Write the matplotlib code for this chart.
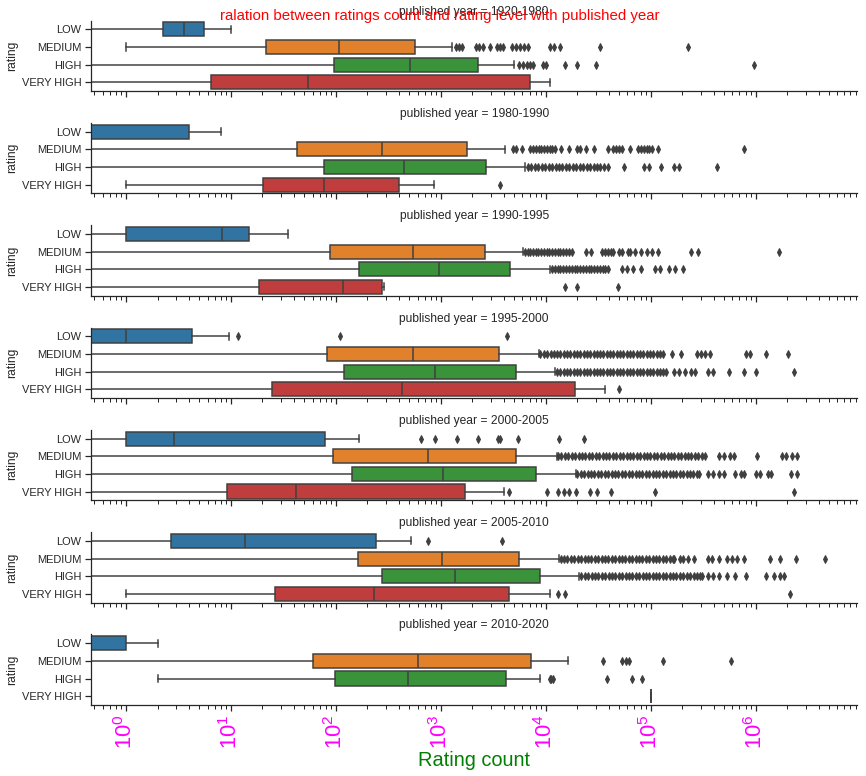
import matplotlib
matplotlib.use('Agg')
import matplotlib.pyplot as plt

# ---------------- data ----------------
year_groups = ['1920-1980', '1980-1990', '1990-1995', '1995-2000',
               '2000-2005', '2005-2010', '2010-2020']
ratings = ['LOW', 'MEDIUM', 'HIGH', 'VERY HIGH']

# rows = year groups, columns = ratings (LOW, MEDIUM, HIGH, VERY HIGH)
whisker_low = [[0, 1, 0, 0],
               [0, 0, 0, 1],
               [0, 0, 0, 0],
               [0, 0, 0, 0],
               [0, 0, 0, 0],
               [0, 0, 0, 1],
               [0, 0, 2, 100000]]
quartile1 = [[2.25, 21.5, 97, 6.5],
             [0, 43, 77.5, 20.4],
             [1, 87.5, 165, 18.5],
             [0, 83, 118.5, 24.4],
             [1, 93, 142, 9.2],
             [2.7, 161, 274, 26.6],
             [0, 60.8, 97.6, 100000]]
median = [[3.6, 107, 510, 54],
          [0, 277, 446, 77.5],
          [8.2, 548, 958, 117],
          [1, 548, 880, 430],
          [2.9, 761, 1043, 41.7],
          [13.6, 1018, 1380, 231],
          [0, 604, 491, 100000]]
quartile3 = [[5.5, 569, 2280, 7100],
             [4, 1760, 2690, 400],
             [15, 2630, 4540, 278],
             [4.3, 3560, 5190, 18800],
             [79.5, 5190, 8040, 1718],
             [243, 5580, 8860, 4490],
             [1, 7290, 4170, 100000]]
whisker_high = [[10, 1270, 5000, 11000],
                [8, 4120, 6300, 870],
                [35, 6100, 10900, 285],
                [9.5, 8540, 12300, 36700],
                [165, 12800, 19500, 3970],
                [522, 13500, 20700, 10900],
                [2, 16300, 8750, 100000]]

fliers_1920_1980 = [
    [],
    [1400, 1500, 1600, 2170, 2300, 2530, 2950, 3440, 3700, 3930, 4780, 5220,
     5700, 6220, 6790, 11000, 12000, 13700, 33000, 228000],
    [5500, 6120, 6610, 7000, 7640, 9380, 10100, 15300, 20000, 30200, 970000],
    [],
]
fliers_1980_1990 = [
    [],
    [4820, 5250, 5930, 7110, 7570, 8040, 8530, 9080, 9640, 10250, 10890, 11560,
     12300, 13870, 16670, 20000, 21230, 23990, 28770, 39000, 44060, 46770,
     49770, 52840, 63390, 76030, 80910, 85900, 91200, 97000, 103000, 116400,
     765600],
    [6700, 7300, 7900, 8500, 9200, 9900, 10700, 11500, 12400, 13400, 14400,
     15600, 16800, 18100, 19500, 21000, 22700, 24500, 26400, 28500, 30700,
     33100, 35700, 39000, 56100, 85900, 97000, 124000, 168000, 185000, 432000],
    [3650],
]
fliers_1990_1995 = [
    [],
    [6300, 6700, 7100, 7500, 8000, 8500, 9000, 9600, 10200, 10800, 11500,
     12200, 13000, 13800, 14700, 15600, 16600, 17800, 24000, 26900, 34700,
     37000, 38900, 41500, 43600, 50100, 53000, 60300, 63000, 70800, 81300,
     91200, 102000, 117000, 240000, 282000, 1660000],
    [11500, 12200, 13000, 13800, 14700, 15600, 16600, 17600, 18800, 20000,
     21300, 22600, 24000, 25600, 27200, 28900, 30800, 32700, 34800, 37000,
     39000, 52800, 59700, 67300, 80900, 109600, 123700, 148500, 171700, 201000],
    [15300, 20000, 48500],
]
fliers_1995_2000 = [
    [11.6, 110, 4280],
    [8900, 9600, 10300, 11100, 11900, 12800, 13800, 14800, 15900, 17100,
     18400, 19800, 21300, 22900, 24600, 26500, 28500, 30600, 32900, 35400,
     38100, 41000, 44000, 47400, 51000, 54800, 59000, 63400, 68200, 73400,
     78900, 84900, 91300, 98200, 106000, 114000, 122000, 131000, 158000,
     194000, 279000, 300000, 327000, 369000, 813000, 885000, 1245000, 2020000],
    [12800, 13800, 14800, 15900, 17100, 18400, 19800, 21300, 22900, 24600,
     26500, 28500, 30600, 32900, 35400, 38100, 41000, 44000, 47400, 51000,
     54800, 59000, 63400, 68200, 73400, 78900, 84900, 91300, 98200, 106000,
     114000, 122000, 131000, 140000, 167000, 185000, 210000, 240000, 266000,
     348000, 393000, 551000, 766000, 1000000, 2340000],
    [49700],
]
fliers_2000_2005 = [
    [650, 880, 1430, 2270, 3520, 3650, 5380, 13400, 23100],
    [13100, 14100, 15200, 16400, 17700, 19100, 20600, 22200, 23900, 25800,
     27800, 30000, 32300, 34800, 37500, 40400, 43600, 47000, 50600, 54600,
     58800, 63400, 68300, 73600, 79400, 85500, 92200, 99400, 107000, 115000,
     124000, 134000, 145000, 156000, 168000, 181000, 195000, 210000, 227000,
     244000, 263000, 284000, 306000, 327000, 443000, 500000, 565000, 622000,
     1040000, 1790000, 1950000, 2200000, 2490000],
    [20000, 21600, 23300, 25100, 27000, 29100, 31400, 33800, 36500, 39300,
     42400, 45700, 49200, 53000, 57200, 61600, 66400, 71600, 77100, 83100,
     89600, 96600, 104000, 112000, 121000, 130000, 140000, 151000, 163000,
     176000, 189000, 204000, 220000, 237000, 255000, 275000, 290000, 348000,
     394000, 443000, 500000, 638000, 721000, 766000, 1010000, 1100000,
     1320000, 1410000, 2150000, 2490000],
    [4490, 10200, 13100, 14800, 16700, 19500, 26400, 30600, 41400, 110000,
     2340000],
]
fliers_2005_2010 = [
    [760, 3790],
    [13900, 15000, 16100, 17400, 18700, 20200, 21700, 23400, 25200, 27200,
     29300, 31600, 34000, 36700, 39500, 42600, 45900, 49400, 53300, 57400,
     61900, 66700, 71800, 77400, 83400, 89900, 96900, 104000, 112000, 121000,
     130000, 141000, 152000, 163000, 168000, 189000, 205000, 225000, 257000,
     348000, 380000, 443000, 532000, 590000, 660000, 766000, 1370000,
     1690000, 2430000, 4620000],
    [21800, 23500, 25300, 27300, 29400, 31700, 34100, 36800, 39600, 42700,
     46000, 49600, 53400, 57600, 62000, 66800, 72000, 77600, 83600, 90100,
     97100, 105000, 113000, 121000, 131000, 141000, 152000, 164000, 176000,
     190000, 205000, 221000, 238000, 256000, 276000, 297000, 308000, 348000,
     393000, 443000, 532000, 638000, 813000, 1245000, 1490000, 1690000,
     1860000],
    [13100, 15100, 2100000],
]
fliers_2010_2020 = [
    [],
    [35400, 52800, 57500, 61900, 131000, 586000],
    [10900, 11300, 11600, 38000, 65800, 82800],
    [],
]
fliers = [fliers_1920_1980, fliers_1980_1990, fliers_1990_1995,
          fliers_1995_2000, fliers_2000_2005, fliers_2005_2010,
          fliers_2010_2020]

box_colors = ['#3274a1', '#e1812c', '#3a923a', '#c03d3e']
line_gray = '#3f3f3f'

# ---------------- style ----------------
plt.rcParams.update({
    'font.family': ['Liberation Sans', 'DejaVu Sans'],
    'text.color': '.15', 'axes.labelcolor': '.15',
    'xtick.color': '.15', 'ytick.color': '.15',
    'axes.edgecolor': '.15', 'axes.linewidth': 1.25,
    'xtick.major.size': 6, 'xtick.minor.size': 4, 'ytick.major.size': 6,
    'xtick.major.width': 1.25, 'xtick.minor.width': 1.0,
    'ytick.major.width': 1.25,
    'xtick.labelsize': 11, 'ytick.labelsize': 11,
    'axes.labelsize': 12, 'axes.titlesize': 12,
})

fig, axes = plt.subplots(7, 1, figsize=(866 / 72, 776 / 72), dpi=72,
                         sharex=True)
fig.subplots_adjust(left=0.105, right=0.99, top=0.9735, bottom=0.0915,
                    hspace=0.45)

for i, ax in enumerate(axes):
    ax.set_xscale('log', nonpositive='clip')
    stats = []
    for j in range(len(ratings)):
        stats.append(dict(whislo=whisker_low[i][j], q1=quartile1[i][j],
                          med=median[i][j], q3=quartile3[i][j],
                          whishi=whisker_high[i][j], fliers=fliers[i][j]))
    art = ax.bxp(stats, positions=list(range(len(ratings))), widths=0.8,
                 orientation='horizontal', patch_artist=True,
                 manage_ticks=False,
                 boxprops=dict(edgecolor=line_gray, linewidth=1.5),
                 whiskerprops=dict(color=line_gray, linewidth=1.5),
                 capprops=dict(color=line_gray, linewidth=1.5),
                 medianprops=dict(color=line_gray, linewidth=1.5),
                 flierprops=dict(marker='d', markersize=5.5, linestyle='none',
                                 markerfacecolor=line_gray,
                                 markeredgecolor=line_gray))
    for patch, c in zip(art['boxes'], box_colors):
        patch.set_facecolor(c)
    ax.set_yticks(range(len(ratings)))
    ax.set_yticklabels(ratings)
    ax.set_ylim(3.5, -0.5)
    ax.set_ylabel('rating')
    ax.set_title(f'published year = {year_groups[i]}')
    ax.spines['top'].set_visible(False)
    ax.spines['right'].set_visible(False)
    ax.set_xlim(0.464, 9.3e6)

axes[-1].tick_params(axis='x', which='major', labelrotation=90,
                     labelcolor='magenta', labelsize=22)
axes[-1].set_xlabel('Rating count', color='green', fontsize=20, labelpad=2)
fig.suptitle('ralation between ratings count and rating level with published year',
             color='red', fontsize=15, x=0.508, y=0.989, va='top')

fig.savefig('out.png', dpi=72)
